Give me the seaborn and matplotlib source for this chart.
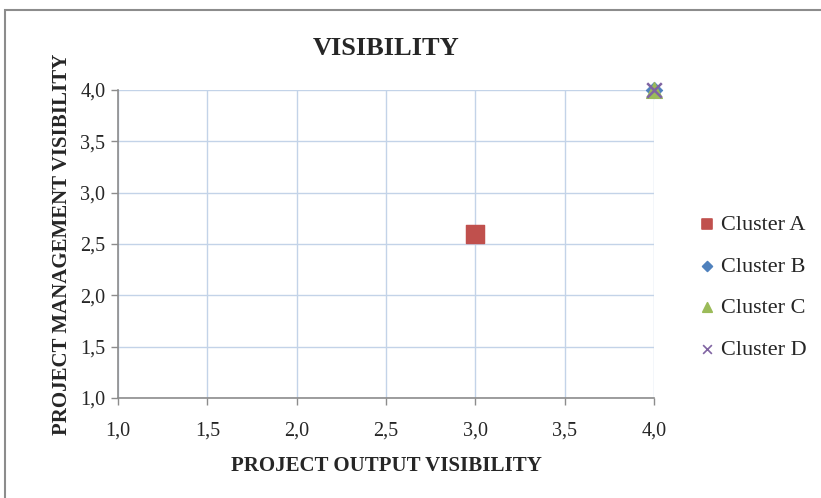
import seaborn as sns
import matplotlib.pyplot as plt
import pandas as pd
from matplotlib.patches import Rectangle
from matplotlib.ticker import FuncFormatter, MultipleLocator

# data
clusters = ["Cluster A", "Cluster B", "Cluster C", "Cluster D"]
output_vis = [3.0, 4.0, 4.0, 4.0]
mgmt_vis = [2.6, 4.0, 4.0, 4.0]

colors = ["#C0504D", "#4F81BD", "#9BBB59", "#8064A2"]
markers = ["s", "D", "^", "x"]

df = pd.DataFrame({"cluster": clusters, "x": output_vis, "y": mgmt_vis})

sns.set_style("white")
plt.rcParams["font.family"] = ["Liberation Serif", "DejaVu Serif"]

fig = plt.figure(figsize=(8.21, 4.98), dpi=100)
ax = fig.add_axes([0.1437, 0.2008, 0.6529, 0.6185])

sizes = {"Cluster A": 170, "Cluster B": 70, "Cluster C": 130, "Cluster D": 110}
for c, col, m in zip(clusters, colors, markers):
    sub = df[df.cluster == c]
    if m == "x":
        ax.scatter(sub.x, sub.y, marker="x", s=sizes[c], color=col, linewidths=1.8,
                   zorder=5, clip_on=False, label=c)
    else:
        sns.scatterplot(data=sub, x="x", y="y", marker=m, s=sizes[c], color=col,
                        edgecolor=col, ax=ax, zorder=5, clip_on=False, label=c)

ax.set_xlim(1, 4)
ax.set_ylim(1, 4)
ax.xaxis.set_major_locator(MultipleLocator(0.5))
ax.yaxis.set_major_locator(MultipleLocator(0.5))
fmt = FuncFormatter(lambda v, p: f"{v:.1f}".replace(".", ","))
ax.xaxis.set_major_formatter(fmt)
ax.yaxis.set_major_formatter(fmt)
ax.grid(True, color="#C3D3E8", linewidth=1)
ax.set_axisbelow(True)
for s in ["top", "right"]:
    ax.spines[s].set_visible(False)
for s in ["left", "bottom"]:
    ax.spines[s].set_color("#8C8C8C")
    ax.spines[s].set_linewidth(1.2)
ax.tick_params(axis="both", which="major", direction="out", length=5, width=1,
               color="#8C8C8C", labelsize=14.5, pad=4, bottom=True, left=True)
ax.tick_params(axis="x", pad=12)

ax.set_title("VISIBILITY", fontsize=19, fontweight="bold", pad=25)
ax.set_xlabel("PROJECT OUTPUT VISIBILITY", fontsize=15, fontweight="bold", labelpad=11)
ax.set_ylabel("PROJECT MANAGEMENT VISIBILITY", fontsize=15, fontweight="bold", labelpad=6)

leg = ax.legend(loc="center left", bbox_to_anchor=(1.04, 0.36), frameon=False,
                fontsize=16, handletextpad=0.15, labelspacing=0.95, markerscale=0.6,
                handlelength=1.0)
for h in leg.legend_handles:
    h.set_linewidth(1.2) if hasattr(h, "set_linewidth") else None

fig.patches.append(Rectangle((0.006, -0.01), 1.0, 0.99, transform=fig.transFigure,
                             fill=False, edgecolor="#8C8C8C", linewidth=1.5))

fig.savefig("out.png", dpi=100)
